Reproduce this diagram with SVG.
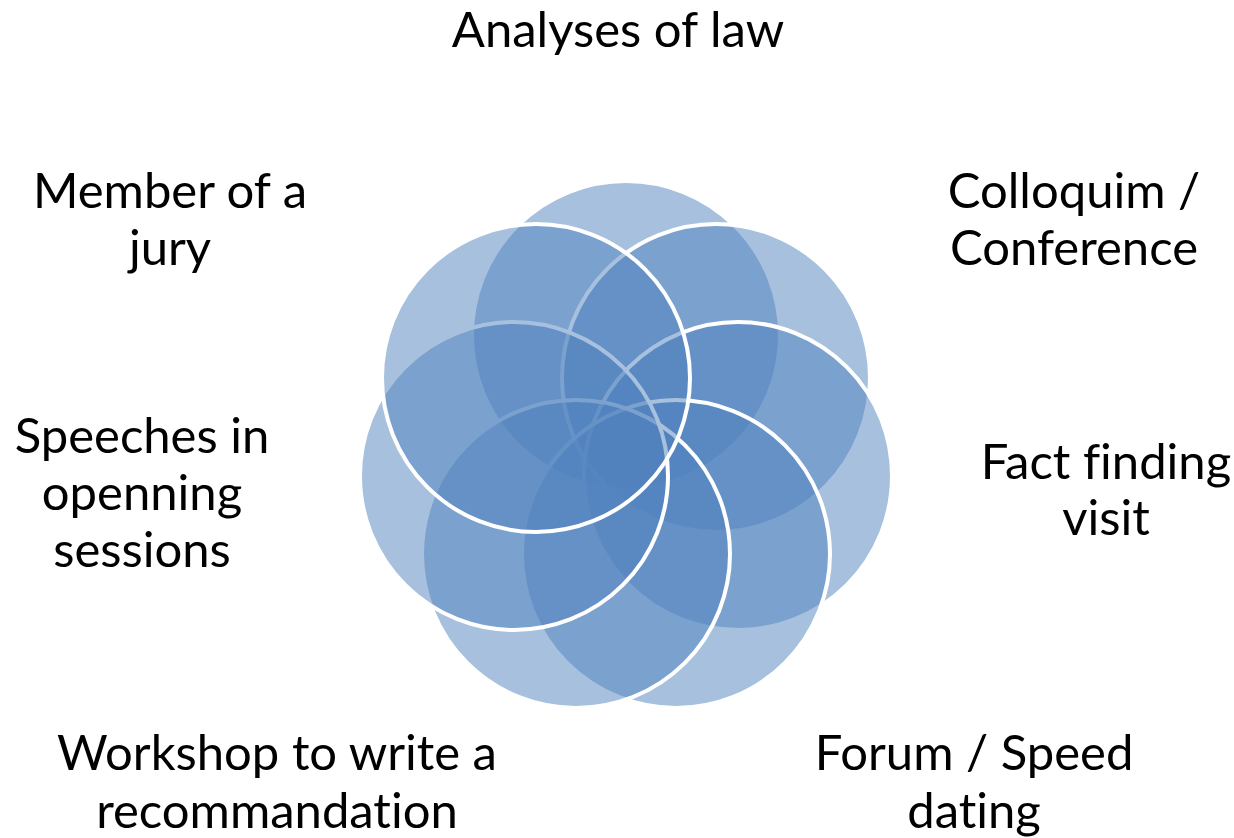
<svg xmlns="http://www.w3.org/2000/svg" width="1234" height="838" viewBox="0 0 1234 838">
<style>
.c{fill:#4F81BD;fill-opacity:0.5;stroke:#FFFFFF;stroke-width:4}
.t{font-family:Lato,"Liberation Sans",sans-serif;font-size:49px;fill:#000000;text-anchor:middle;font-variant-ligatures:none}
</style>
<rect width="1234" height="838" fill="#FFFFFF"/>
<g id="connectors"/>
<g id="node-analyses">
<circle class="c" cx="626" cy="335" r="154"/>
<text class="t" x="618" y="47">Analyses of law</text>
</g>
<g id="node-colloquim">
<circle class="c" cx="716" cy="378" r="154"/>
<text class="t" x="1074" y="208">Colloquim /</text>
<text class="t" x="1074" y="265">Conference</text>
</g>
<g id="node-fact">
<circle class="c" cx="738" cy="476" r="154"/>
<text class="t" x="1106" y="479">Fact finding</text>
<text class="t" x="1106" y="535">visit</text>
</g>
<g id="node-forum">
<circle class="c" cx="676" cy="554" r="154"/>
<text class="t" x="974" y="770">Forum / Speed</text>
<text class="t" x="974" y="828">dating</text>
</g>
<g id="node-workshop">
<circle class="c" cx="576" cy="554" r="154"/>
<text class="t" x="277" y="770">Workshop to write a</text>
<text class="t" x="277" y="828">recommandation</text>
</g>
<g id="node-speeches">
<circle class="c" cx="514" cy="476" r="154"/>
<text class="t" x="142" y="453">Speeches in</text>
<text class="t" x="142" y="510">openning</text>
<text class="t" x="142" y="567">sessions</text>
</g>
<g id="node-member">
<circle class="c" cx="536" cy="378" r="154"/>
<text class="t" x="170" y="208">Member of a</text>
<text class="t" x="170" y="265">jury</text>
</g>
</svg>
